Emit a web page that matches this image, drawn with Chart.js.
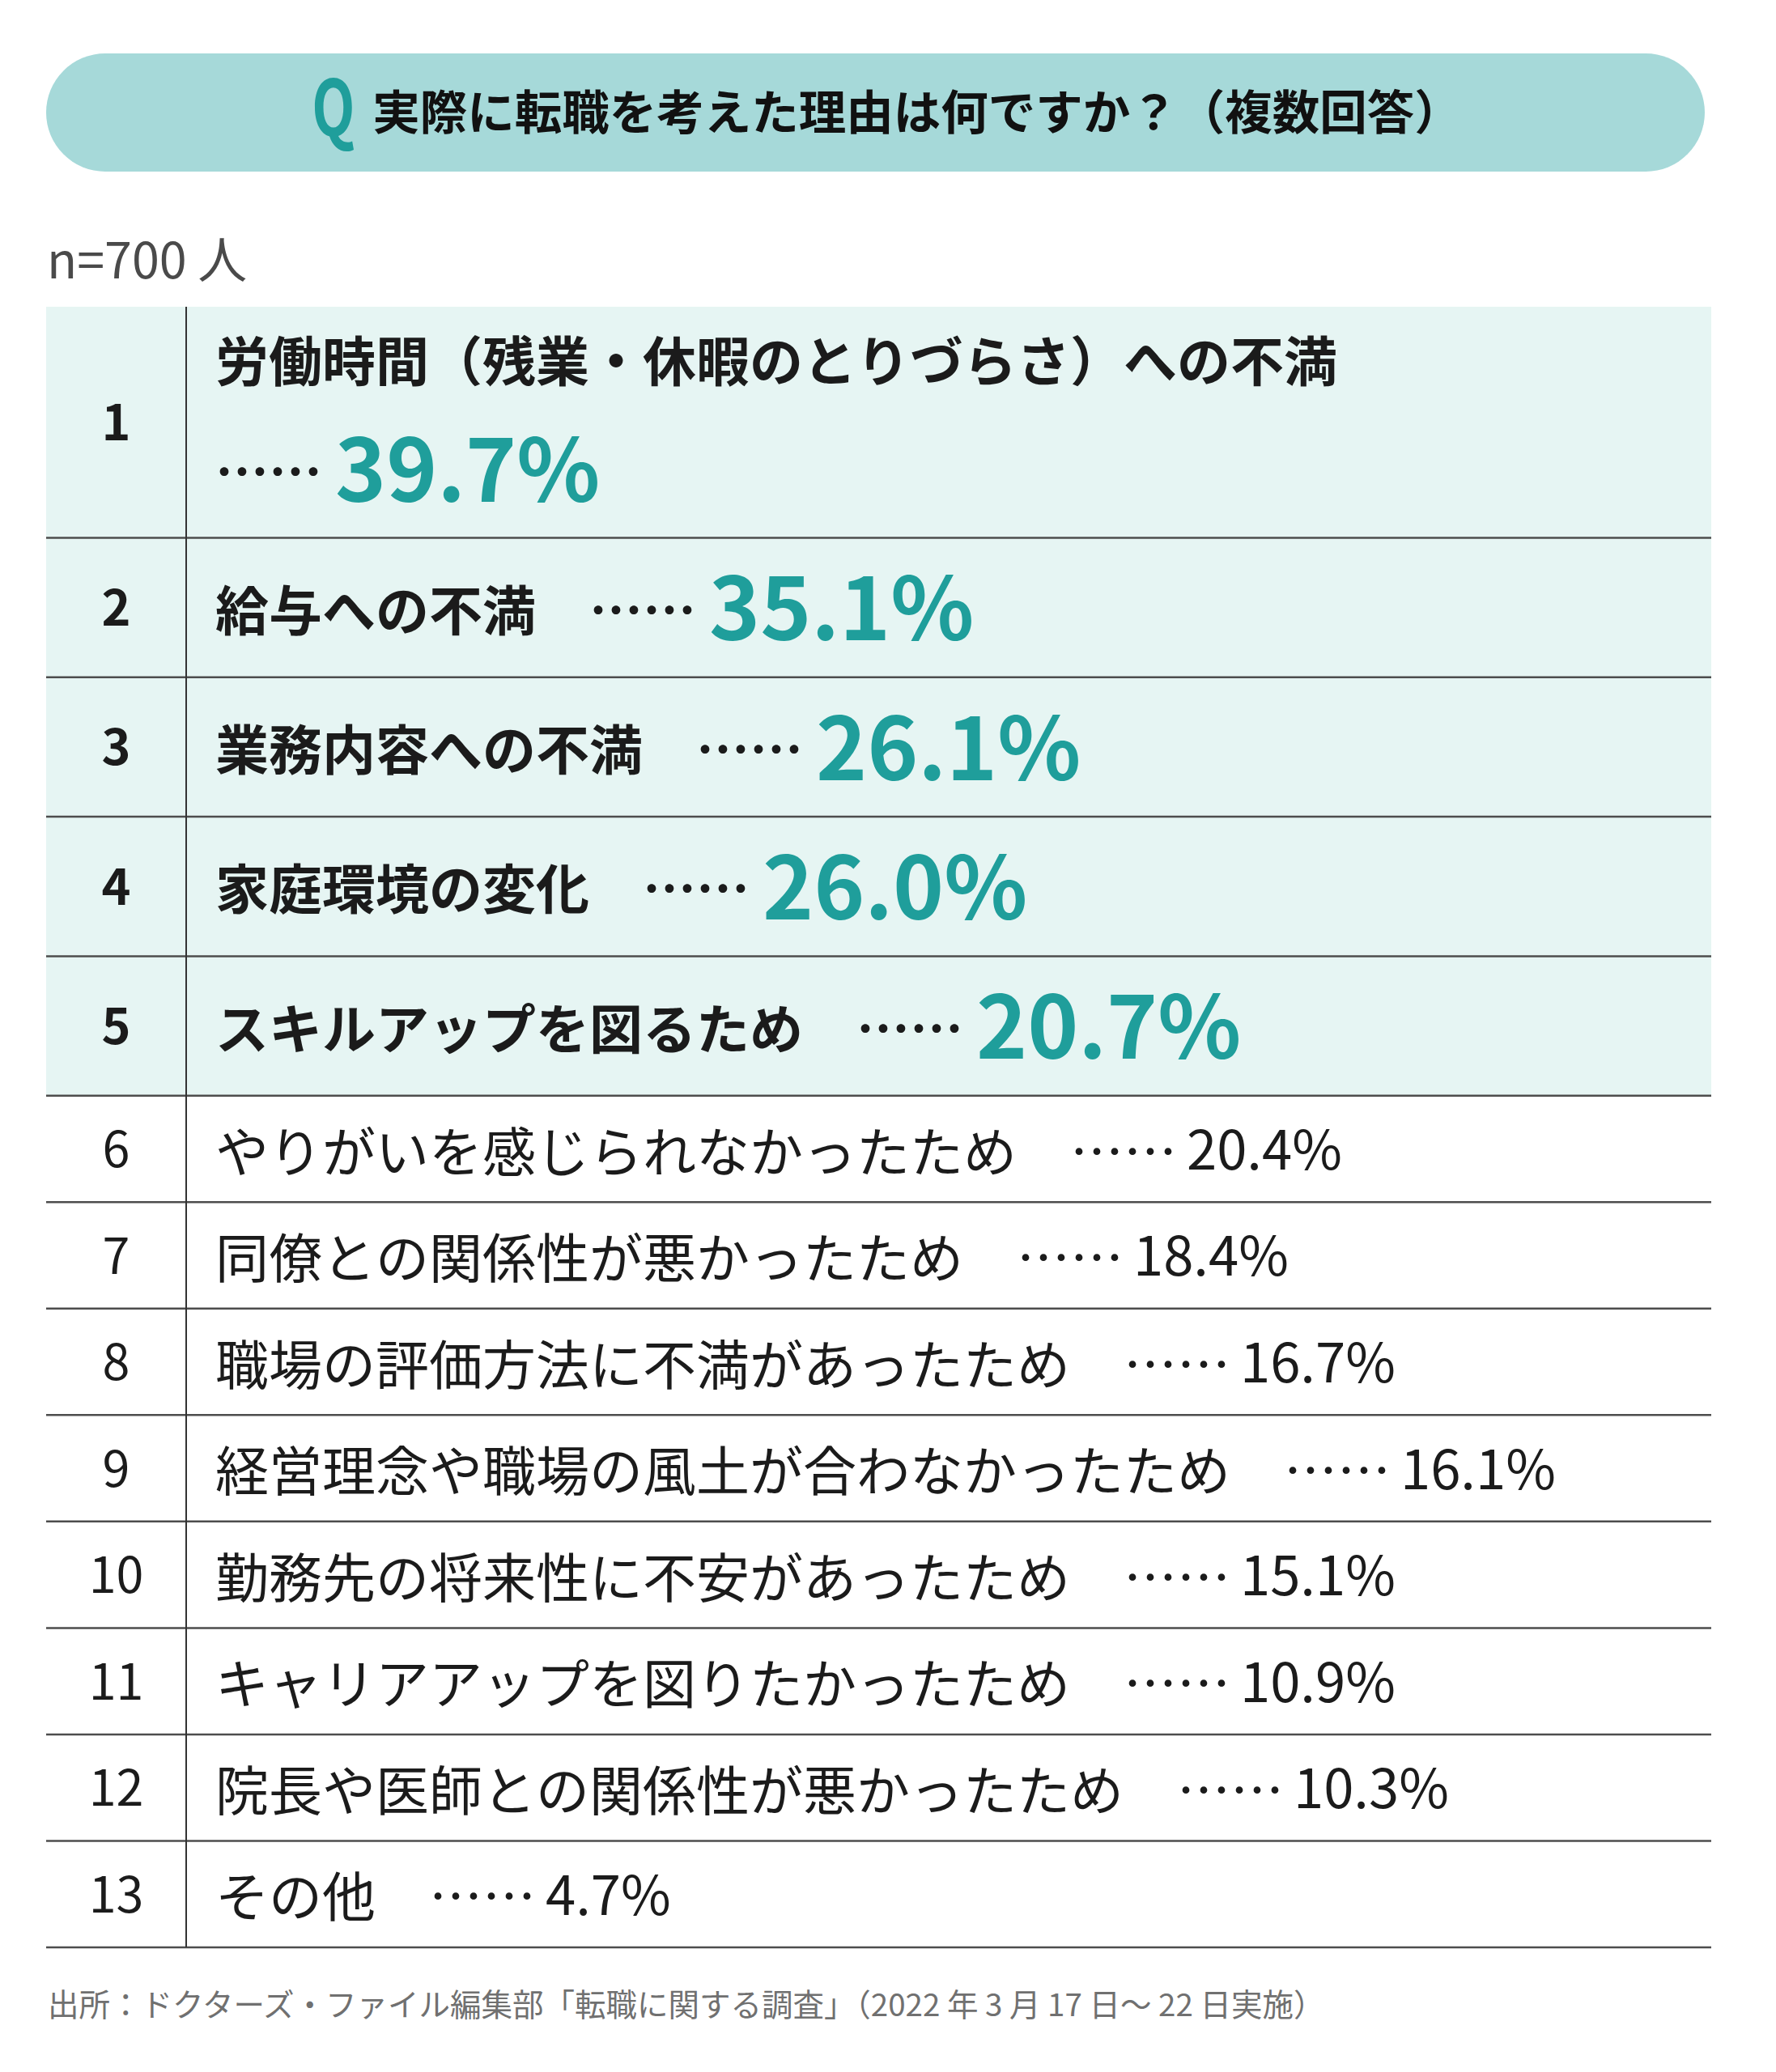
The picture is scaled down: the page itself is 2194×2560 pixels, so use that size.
<!DOCTYPE html>
<html lang="ja">
<head>
<meta charset="utf-8">
<title>実際に転職を考えた理由</title>
<script src="https://cdn.jsdelivr.net/npm/chart.js@4.4.1/dist/chart.umd.min.js"></script>
<style>
  html, body { margin: 0; padding: 0; background: #fff; }
  body { width: 2194px; height: 2560px; position: relative; overflow: hidden; font-family: "Noto Sans CJK JP", "Noto Sans", sans-serif; }
  .title { position: absolute; left: 57px; top: 66px; width: 2049px; height: 146px; border-radius: 73px; background: #a6d9d9; display: flex; align-items: center; justify-content: center; }
  .title .tt { white-space: nowrap; line-height: 1; transform: translate(14px, -20px); }
  .title .q { display: inline-flex; justify-content: center; width: 54px; margin-right: 21px; position: relative; top: 8px; }
  .title .q span { display: inline-block; transform: scaleX(0.72); color: #1f9e9b; font-weight: 700; font-size: 96px; }
  .title .txt { font-weight: 700; font-size: 58.5px; color: #111; }
  .sample { position: absolute; left: 58px; top: 287px; font-size: 61px; line-height: 1; color: #4a4a4a; }
  .source { position: absolute; left: 59px; top: 2455px; font-size: 38.5px; line-height: 1; color: #707070; white-space: nowrap; }
  #rankChart { position: absolute; left: 57px; top: 379px; }
</style>
</head>
<body>
<div class="title"><div class="tt"><span class="q"><span>Q</span></span><span class="txt">実際に転職を考えた理由は何ですか？（複数回答）</span></div></div>
<div class="sample">n=700 人</div>
<canvas id="rankChart" width="2057" height="2032"></canvas>
<div class="source">出所：ドクターズ・ファイル編集部「転職に関する調査」（2022 年 3 月 17 日～ 22 日実施）</div>
<script>
// Survey data
const ranks = [1, 2, 3, 4, 5, 6, 7, 8, 9, 10, 11, 12, 13];
const reasons = [
  '労働時間（残業・休暇のとりづらさ）への不満',
  '給与への不満',
  '業務内容への不満',
  '家庭環境の変化',
  'スキルアップを図るため',
  'やりがいを感じられなかったため',
  '同僚との関係性が悪かったため',
  '職場の評価方法に不満があったため',
  '経営理念や職場の風土が合わなかったため',
  '勤務先の将来性に不安があったため',
  'キャリアアップを図りたかったため',
  '院長や医師との関係性が悪かったため',
  'その他'
];
const percents = [39.7, 35.1, 26.1, 26.0, 20.7, 20.4, 18.4, 16.7, 16.1, 15.1, 10.9, 10.3, 4.7];
const highlightCount = 5;

// Layout
const FONT = '"Noto Sans CJK JP", "Noto Sans", sans-serif';
const TEAL = '#1f9e9b';
const INK = '#1b1b1b';
const RANK_COL = 173;
const TEXT_PAD = 36;
const LABEL_SIZE = 66;
const BIG_VALUE = 107;
const SMALL_VALUE = 67;
const RANK_SIZE = 61;

const canvas = document.getElementById('rankChart');
const measureCtx = canvas.getContext('2d');

function fmt(v) { return v.toFixed(1) + '%'; }

// does a highlighted line need to wrap onto a second line?
const availWidth = canvas.width - RANK_COL - TEXT_PAD - 60;
const wraps = reasons.map((r, i) => {
  if (i >= highlightCount) return false;
  measureCtx.font = `700 ${LABEL_SIZE}px ${FONT}`;
  let w = measureCtx.measureText(r + '　……').width + 16;
  measureCtx.font = `700 ${BIG_VALUE}px ${FONT}`;
  w += measureCtx.measureText(fmt(percents[i])).width;
  return w > availWidth;
});
const rowUnits = ranks.map((r, i) => wraps[i] ? 2.17 : (i < highlightCount ? 1.31 : 1));
const totalUnits = rowUnits.reduce((a, b) => a + b, 0);

const tablePlugin = {
  id: 'rankTable',
  afterDatasetsDraw(chart) {
    const { ctx, chartArea: area } = chart;
    const divX = area.left + RANK_COL;
    const textX = divX + TEXT_PAD;
    ctx.save();
    chart.data.datasets.forEach((ds, i) => {
      const bar = chart.getDatasetMeta(i).data[0];
      const top = Math.min(bar.y, bar.base);
      const bottom = Math.max(bar.y, bar.base);
      const mid = (top + bottom) / 2;
      const big = i < highlightCount;
      const weight = big ? 700 : 400;

      // row rule
      ctx.strokeStyle = '#4d4d4d';
      ctx.lineWidth = 2.5;
      ctx.beginPath();
      ctx.moveTo(area.left, bottom);
      ctx.lineTo(area.right, bottom);
      ctx.stroke();

      // rank
      ctx.fillStyle = INK;
      ctx.font = `${weight} ${RANK_SIZE}px ${FONT}`;
      ctx.textAlign = 'center';
      ctx.textBaseline = 'alphabetic';
      ctx.fillText(String(ranks[i]), area.left + RANK_COL / 2, mid + 0.37 * RANK_SIZE);

      // label + leader dots
      ctx.textAlign = 'left';
      ctx.textBaseline = 'middle';
      ctx.font = `${weight} ${LABEL_SIZE}px ${FONT}`;
      let x = textX;
      let lineY = mid;
      if (wraps[i]) {
        ctx.fillText(reasons[i], x, mid - 76);
        lineY = mid + 58;
      } else {
        ctx.fillText(reasons[i], x, mid + 3);
        x += ctx.measureText(reasons[i] + '　').width;
      }
      ctx.fillText('……', x, lineY + 3);
      x += ctx.measureText('……').width + (big ? 16 : 12);

      // value
      const vSize = big ? BIG_VALUE : SMALL_VALUE;
      ctx.font = `${weight} ${vSize}px ${FONT}`;
      ctx.fillStyle = big ? TEAL : INK;
      ctx.textBaseline = 'alphabetic';
      ctx.fillText(fmt(percents[i]), x, lineY + 0.38 * vSize);
    });

    // rank column divider
    ctx.strokeStyle = '#333';
    ctx.lineWidth = 2;
    ctx.beginPath();
    ctx.moveTo(divX, area.top);
    ctx.lineTo(divX, area.bottom);
    ctx.stroke();
    ctx.restore();
  }
};

function initRankChart() {
  return new Chart(canvas.getContext('2d'), {
    type: 'bar',
    data: {
      labels: ['理由'],
      datasets: reasons.map((r, i) => ({
        label: r,
        data: [rowUnits[i]],
        backgroundColor: i < highlightCount ? '#e6f5f3' : '#ffffff',
        borderWidth: 0,
        barPercentage: 1,
        categoryPercentage: 1,
        stack: 'table'
      }))
    },
    options: {
      responsive: false,
      animation: false,
      devicePixelRatio: 1,
      layout: { padding: { top: 0, left: 0, right: 0, bottom: 5 } },
      plugins: {
        legend: { display: false },
        tooltip: { enabled: false }
      },
      scales: {
        x: { display: false, stacked: true },
        y: { display: false, stacked: true, reverse: true, min: 0, max: totalUnits }
      }
    },
    plugins: [tablePlugin]
  });
}

initRankChart();
</script>
</body>
</html>
